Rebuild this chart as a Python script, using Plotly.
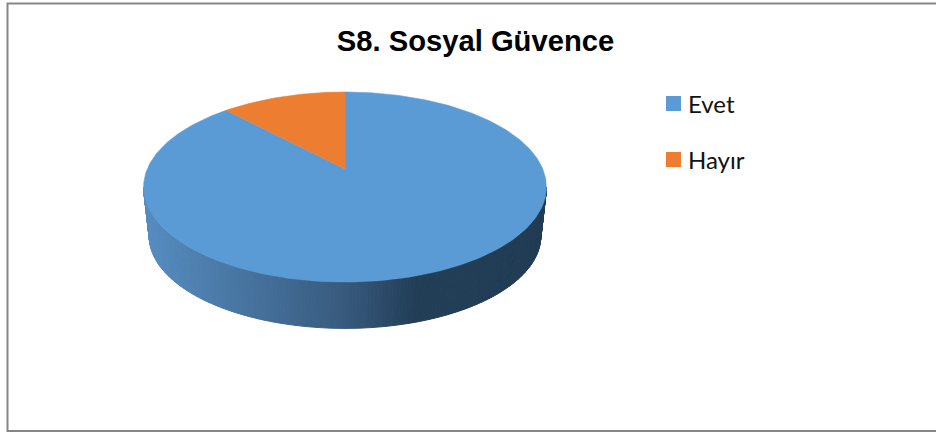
"""S8. Sosyal Güvence: 3B görünümlü pasta grafiği."""

import math

import plotly.graph_objects as go

kategoriler = ["Evet", "Hayır"]
degerler = [88, 12]
renkler = ["#5B9BD5", "#ED7D31"]
baslik = "S8. Sosyal Güvence"

# perspektif: eksenler piksel ölçeğinde, pasta tablası izdüşümle çiziliyor
MERKEZ_X = 345
YARICAP = 197.8
PERS = 0.1895
Y_EGIM = -59.6
Y_MERKEZ = 169
ALT_OLCEK = 0.972
KALINLIK = 49
ELIPS_Y = 187

# lejant yerleşimi (piksel)
LEJANT_X = 666
LEJANT_Y = [103.5, 159.5]
ANAHTAR = 15


def ust_kenar(aci):
    u, v = math.sin(aci), math.cos(aci)
    k = 1 + PERS * v
    return MERKEZ_X + YARICAP * u / k, (Y_EGIM * v + Y_MERKEZ) / k


def alt_kenar(aci):
    x, y = ust_kenar(aci)
    return MERKEZ_X + (x - MERKEZ_X) * ALT_OLCEK, ELIPS_Y + (y - ELIPS_Y) * ALT_OLCEK + KALINLIK


def karistir(x):
    duraklar = [(148, (86, 140, 192)), (345, (56, 90, 125)), (415, (35, 63, 88)), (545, (33, 60, 84))]
    for (x0, r0), (x1, r1) in zip(duraklar, duraklar[1:]):
        if x <= x1:
            t = max(0, (x - x0) / (x1 - x0))
            return "rgb(%d,%d,%d)" % tuple(a + (b - a) * t for a, b in zip(r0, r1))
    return "rgb(33,60,84)"


fig = go.Figure()

# yan yüz: ön yarıda dar şeritler
aci_bas = math.acos(-PERS)
aci_bit = 2 * math.pi - aci_bas
adim = 180
for i in range(adim):
    a0 = aci_bas + (aci_bit - aci_bas) * i / adim
    a1 = aci_bas + (aci_bit - aci_bas) * (i + 1) / adim
    p = [ust_kenar(a0), ust_kenar(a1), alt_kenar(a1), alt_kenar(a0), ust_kenar(a0)]
    renk = karistir((p[0][0] + p[1][0]) / 2)
    fig.add_trace(
        go.Scatter(
            x=[q[0] for q in p],
            y=[q[1] for q in p],
            mode="lines",
            fill="toself",
            fillcolor=renk,
            line={"color": renk, "width": 1},
            hoverinfo="skip",
            showlegend=False,
        )
    )

# üst yüz: dilimler saat yönünde tepeden başlıyor
toplam = sum(degerler)
baslangic = 0.0
for ad, deger, renk in zip(kategoriler, degerler, renkler):
    bitis = baslangic + 2 * math.pi * deger / toplam
    n = max(2, int(deger * 4))
    noktalar = [ust_kenar(baslangic + (bitis - baslangic) * j / n) for j in range(n + 1)]
    xs = [MERKEZ_X] + [q[0] for q in noktalar] + [MERKEZ_X]
    ys = [Y_MERKEZ] + [q[1] for q in noktalar] + [Y_MERKEZ]
    fig.add_trace(
        go.Scatter(
            x=xs,
            y=ys,
            mode="lines",
            fill="toself",
            fillcolor=renk,
            line={"color": renk, "width": 0.5},
            name=ad,
            hoverinfo="name",
            showlegend=False,
        )
    )
    baslangic = bitis

# çerçeve ve lejant anahtarları
sekiller = [
    {
        "type": "rect",
        "xref": "paper",
        "yref": "paper",
        "x0": 7.5 / 936,
        "x1": 1.01,
        "y0": 1 - 431 / 434,
        "y1": 1 - 3.5 / 434,
        "line": {"color": "#868686", "width": 2},
        "layer": "below",
    }
]
notlar = []
for ad, renk, y in zip(kategoriler, renkler, LEJANT_Y):
    sekiller.append(
        {
            "type": "rect",
            "x0": LEJANT_X,
            "x1": LEJANT_X + ANAHTAR,
            "y0": y - ANAHTAR / 2,
            "y1": y + ANAHTAR / 2,
            "fillcolor": renk,
            "line": {"width": 0},
        }
    )
    notlar.append(
        {
            "text": ad,
            "x": LEJANT_X + ANAHTAR + 5,
            "y": y - 0.5,
            "xanchor": "left",
            "yanchor": "middle",
            "showarrow": False,
            "font": {"family": "Lato", "size": 24, "color": "#111111"},
        }
    )

fig.update_layout(
    width=936,
    height=434,
    margin={"l": 0, "r": 0, "t": 0, "b": 0},
    paper_bgcolor="white",
    plot_bgcolor="white",
    showlegend=False,
    title={
        "text": "<b>%s</b>" % baslik,
        "x": 475.5 / 936,
        "xanchor": "center",
        "y": 1 - 41 / 434,
        "yanchor": "middle",
        "font": {"family": "Liberation Sans", "size": 29.2, "color": "black"},
    },
    xaxis={"range": [0, 936], "visible": False, "fixedrange": True},
    yaxis={"range": [434, 0], "visible": False, "fixedrange": True},
    shapes=sekiller,
    annotations=notlar,
)

fig.write_html("out.html", post_script="document.body.style.margin='0';", config={"displayModeBar": False})
